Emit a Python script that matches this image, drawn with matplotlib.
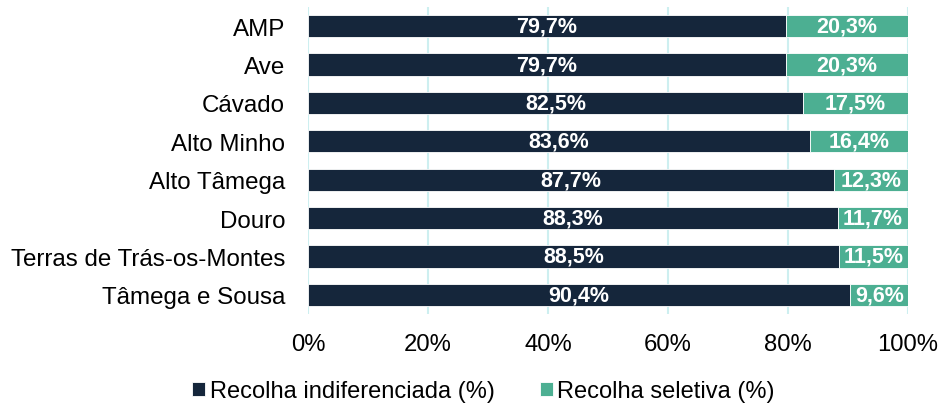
import matplotlib
matplotlib.use("Agg")
import matplotlib.pyplot as plt
import numpy as np

categories = ["AMP", "Ave", "Cávado", "Alto Minho", "Alto Tâmega", "Douro",
              "Terras de Trás-os-Montes", "Tâmega e Sousa"]
indiferenciada = [79.7, 79.7, 82.5, 83.6, 87.7, 88.3, 88.5, 90.4]
seletiva = [20.3, 20.3, 17.5, 16.4, 12.3, 11.7, 11.5, 9.6]
series_names = ["Recolha indiferenciada (%)", "Recolha seletiva (%)"]
xticks = [0, 20, 40, 60, 80, 100]
xtick_labels = ["0%", "20%", "40%", "60%", "80%", "100%"]

navy = "#15263b"
teal = "#4caf92"
grid_c = "#cdeff0"

plt.rcParams['font.family'] = ['Liberation Sans', 'DejaVu Sans']

fig = plt.figure(figsize=(9.4, 4.06), dpi=100)
ax = fig.add_axes([308/940, 1 - 315/406, 600/940, 307/406])

y = np.arange(len(categories))
b1 = ax.barh(y, indiferenciada, height=0.58, color=navy, edgecolor='white',
             linewidth=0.6, label=series_names[0], zorder=3)
b2 = ax.barh(y, seletiva, left=indiferenciada, height=0.58, color=teal,
             edgecolor='white', linewidth=0.6, label=series_names[1], zorder=3)

def fmt(v):
    return f"{v:.1f}%".replace(".", ",")

for i in range(len(categories)):
    ax.text(indiferenciada[i] / 2, y[i], fmt(indiferenciada[i]), ha='center',
            va='center', color='white', fontsize=15.5, fontweight='bold', zorder=4)
    ax.text(indiferenciada[i] + seletiva[i] / 2, y[i], fmt(seletiva[i]), ha='center',
            va='center', color='white', fontsize=15.5, fontweight='bold', zorder=4)

ax.set_xlim(0, 100)
ax.set_ylim(len(categories) - 0.5, -0.5)
ax.set_yticks(y)
ax.set_yticklabels(categories, fontsize=17.4)
ax.set_xticks(xticks)
ax.set_xticklabels(xtick_labels, fontsize=17.2)
ax.tick_params(axis='both', length=0)
ax.tick_params(axis='x', pad=14)
ax.tick_params(axis='y', pad=16.5)
for s in ax.spines.values():
    s.set_visible(False)
ax.xaxis.grid(True, color=grid_c, linewidth=1.5, zorder=0)
ax.set_axisbelow(True)

fig.legend(handles=[b1, b2], labels=series_names, loc='center',
           bbox_to_anchor=(483.5/940, 1 - 392/406), ncol=2, frameon=False,
           fontsize=17, handlelength=0.55, handleheight=0.55, handletextpad=0.2,
           columnspacing=1.9, borderaxespad=0)

fig.savefig("out.png", dpi=100)
